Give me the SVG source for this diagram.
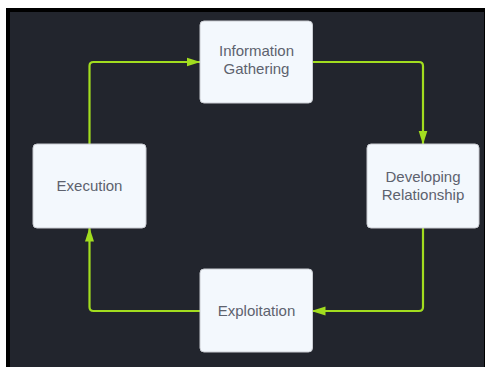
<svg xmlns="http://www.w3.org/2000/svg" width="485" height="367" viewBox="0 0 485 367">
  <defs>
    <style>
      .node rect { fill: #f3f8fd; stroke: #c9ccd2; stroke-width: 1; }
      .node text { font-family: "Liberation Sans", Arial, sans-serif; font-size: 15px; fill: #5d626e; text-anchor: middle; }
      .conn { fill: none; stroke: #a2dd1f; stroke-width: 2.2; stroke-linejoin: round; marker-end: url(#arrow); }
    </style>
    <marker id="arrow" viewBox="0 0 14 10" refX="13.5" refY="5" markerWidth="14" markerHeight="10" markerUnits="userSpaceOnUse" orient="auto">
      <path d="M0,0.5 L14,5 L0,9.5 Z" fill="#a2dd1f"/>
    </marker>
  </defs>
  <rect x="0" y="0" width="485" height="367" fill="#ffffff"/>
  <rect x="6" y="8" width="479" height="359" fill="#000000"/>
  <rect x="10" y="12" width="474" height="355" fill="#22252d"/>

  <g id="connectors">
    <path class="conn" d="M313,62 H419 Q423,62 423,66 V144"/>
    <path class="conn" d="M423,228 V307 Q423,311 419,311 H312"/>
    <path class="conn" d="M200,311 H93.5 Q89.5,311 89.5,307 V228"/>
    <path class="conn" d="M89.5,144 V66 Q89.5,62 93.5,62 H200"/>
  </g>

  <g id="information-gathering" class="node">
    <rect x="200" y="21" width="112.5" height="82" rx="4"/>
    <text x="256.5" y="56">Information</text>
    <text x="256.5" y="74">Gathering</text>
  </g>
  <g id="developing-relationship" class="node">
    <rect x="367" y="144" width="112" height="84" rx="4"/>
    <text x="423" y="182">Developing</text>
    <text x="423" y="200">Relationship</text>
  </g>
  <g id="execution" class="node">
    <rect x="33" y="144" width="113" height="84" rx="4"/>
    <text x="89.5" y="191">Execution</text>
  </g>
  <g id="exploitation" class="node">
    <rect x="200" y="269" width="112.5" height="83" rx="4"/>
    <text x="256.5" y="315.5">Exploitation</text>
  </g>
</svg>
